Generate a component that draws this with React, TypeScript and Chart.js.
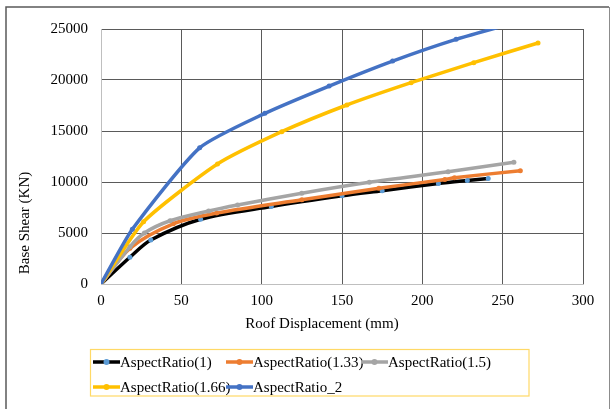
import { useEffect, useRef } from "react";
import { Chart, registerables } from "chart.js";

Chart.register(...registerables);

const FONT = "'Liberation Serif', 'Times New Roman', serif";

const seriesLabels = [
  "AspectRatio(1)",
  "AspectRatio(1.33)",
  "AspectRatio(1.5)",
  "AspectRatio(1.66)",
  "AspectRatio_2",
];

const lineColors = ["#000000", "#ed7d31", "#a5a5a5", "#ffc000", "#4472c4"];
const markerColors = ["#5b9bd5", "#ed7d31", "#a5a5a5", "#ffc000", "#4472c4"];
const curveTension = [0.3, 0.3, 0.3, 0.2, 0.2];

// [roof displacement (mm), base shear (KN)]
const ratio1: [number, number][] = [
  [0, 0], [18, 2620], [31, 4310], [62, 6350], [106, 7600], [150, 8650],
  [175, 9150], [210, 9850], [228, 10150], [241, 10350],
];
const ratio133: [number, number][] = [
  [0, 0], [18, 3500], [45, 5900], [72, 6950], [125, 8250], [173, 9380],
  [214, 10250], [220, 10420], [261, 11110],
];
const ratio15: [number, number][] = [
  [0, 0], [18, 3650], [27, 5000], [43, 6200], [67, 7160], [85, 7750],
  [125, 8900], [167, 9970], [216, 11000], [257, 11940],
];
const ratio166: [number, number][] = [
  [0, 0], [26.5, 6100], [72.5, 11760], [112.5, 14930], [153, 17550],
  [193, 19740], [232, 21700], [272, 23630],
];
const ratio2: [number, number][] = [
  [0, 0], [19.5, 5360], [61.4, 13350], [102, 16730], [142, 19410],
  [181.5, 21860], [221, 23990], [262, 25800],
];

const seriesData = [ratio1, ratio133, ratio15, ratio166, ratio2];

const xTitle = "Roof Displacement (mm)";
const yTitle = "Base Shear (KN)";
const xMin = 0, xMax = 300, xStep = 50;
const yMin = 0, yMax = 25000, yStep = 5000;

const decorPlugin = {
  id: "decor",
  afterDraw(chart: any) {
    const ctx = chart.ctx as CanvasRenderingContext2D;
    ctx.save();
    // outer frame
    ctx.strokeStyle = "#595959";
    ctx.lineWidth = 1.5;
    ctx.beginPath();
    ctx.moveTo(6, 430);
    ctx.lineTo(6, 7);
    ctx.lineTo(609, 7);
    ctx.stroke();
    ctx.strokeStyle = "#8c8c8c";
    ctx.lineWidth = 1;
    ctx.beginPath();
    ctx.moveTo(609.5, 7);
    ctx.lineTo(609.5, 430);
    ctx.stroke();

    // axis titles
    ctx.fillStyle = "#000";
    ctx.font = `15px ${FONT}`;
    ctx.textAlign = "center";
    ctx.textBaseline = "middle";
    ctx.fillText(xTitle, 322, 324);
    ctx.save();
    ctx.translate(25, 223);
    ctx.rotate(-Math.PI / 2);
    ctx.fillText(yTitle, 0, 0);
    ctx.restore();

    // legend box
    ctx.strokeStyle = "#ffd966";
    ctx.lineWidth = 1.2;
    ctx.strokeRect(90.5, 349.5, 438.5, 46.5);

    const pos = [
      [93, 362], [226, 362], [361, 362], [93, 387], [226, 387],
    ];
    chart.data.datasets.forEach((ds: any, i: number) => {
      const [x, y] = pos[i];
      ctx.strokeStyle = ds.borderColor;
      ctx.lineWidth = 3.5;
      ctx.beginPath();
      ctx.moveTo(x, y);
      ctx.lineTo(x + 27, y);
      ctx.stroke();
      ctx.fillStyle = ds.pointBackgroundColor;
      ctx.beginPath();
      ctx.arc(x + 13.5, y, 3, 0, Math.PI * 2);
      ctx.fill();
      ctx.fillStyle = "#000";
      ctx.textAlign = "left";
      ctx.fillText(ds.label, x + 27, y + 1);
    });
    ctx.restore();
  },
};

export default function App() {
  const ref = useRef<HTMLCanvasElement | null>(null);

  useEffect(() => {
    if (!ref.current) return;
    const chart = new Chart(ref.current, {
      type: "line",
      data: {
        datasets: seriesLabels.map((label, i) => ({
          label,
          data: seriesData[i].map(([x, y]) => ({ x, y })),
          borderColor: lineColors[i],
          backgroundColor: markerColors[i],
          pointBackgroundColor: markerColors[i],
          pointBorderColor: markerColors[i],
          pointRadius: 2.5,
          pointBorderWidth: 0,
          borderWidth: 3.5,
          tension: curveTension[i],
          fill: false,
          order: seriesLabels.length - i,
        })),
      },
      options: {
        responsive: false,
        animation: false,
        layout: { padding: { left: 41, right: 27, top: 29, bottom: 85 } },
        plugins: {
          legend: { display: false },
          title: { display: false },
          tooltip: { enabled: false },
        },
        scales: {
          x: {
            type: "linear",
            min: xMin,
            max: xMax,
            afterFit: (s: any) => { s.height = 40; },
            ticks: {
              stepSize: xStep,
              padding: 8,
              color: "#000",
              font: { family: FONT, size: 15 },
              callback: (v: any) => String(v),
            },
            grid: { color: "#5a5a5a", lineWidth: 1, drawTicks: false },
            border: { color: "#bfbfbf", width: 1 },
          },
          y: {
            type: "linear",
            min: yMin,
            max: yMax,
            afterFit: (s: any) => { s.width = 60; },
            ticks: {
              stepSize: yStep,
              padding: 13,
              color: "#000",
              font: { family: FONT, size: 15 },
              callback: (v: any) => String(v),
            },
            grid: { color: "#5a5a5a", lineWidth: 1, drawTicks: false },
            border: { color: "#bfbfbf", width: 1 },
          },
        },
      },
      plugins: [decorPlugin],
    });
    return () => chart.destroy();
  }, []);

  return (
    <div style={{ position: "absolute", left: 0, top: 0, width: 610, height: 409, background: "#fff" }}>
      <canvas ref={ref} width={610} height={409} style={{ width: 610, height: 409 }} />
    </div>
  );
}
